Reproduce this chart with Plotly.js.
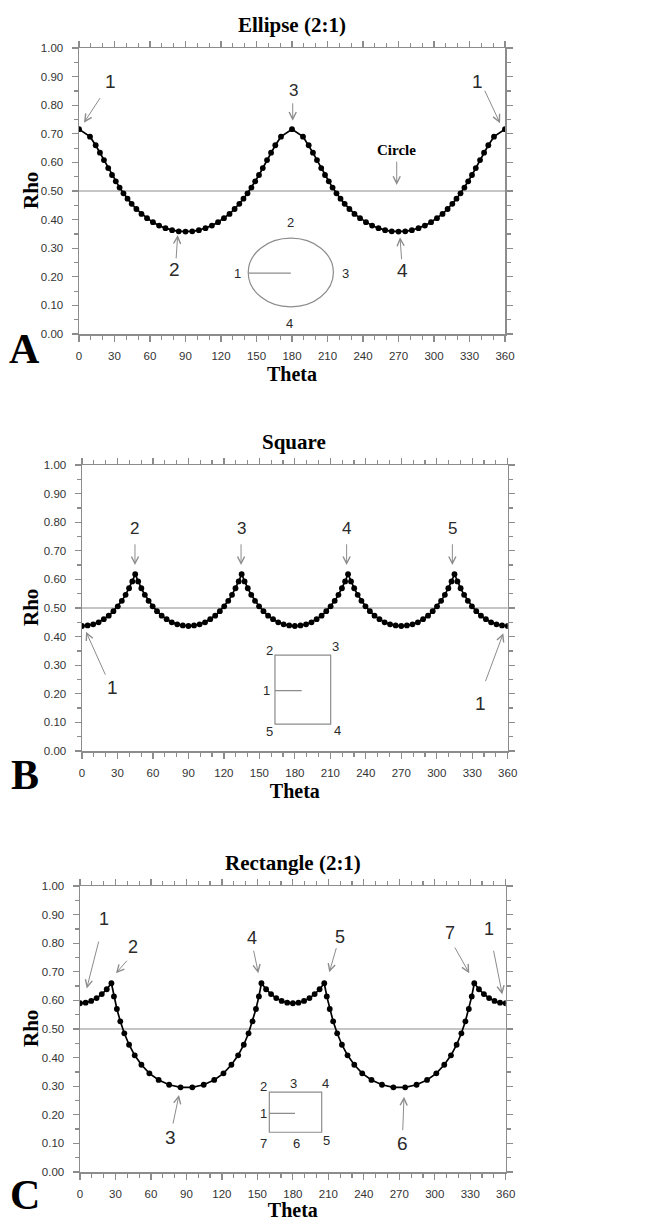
<!DOCTYPE html>
<html>
<head>
<meta charset="utf-8">
<script src="https://cdn.plot.ly/plotly-3.0.1.min.js"></script>
<style>
  html, body { margin: 0; padding: 0; background: #fff; }
  #chart { width: 653px; height: 1221px; }
</style>
</head>
<body>
<div id="chart"></div>
<script>
// ---- axis ticks ----
const thetaTicks = [0, 30, 60, 90, 120, 150, 180, 210, 240, 270, 300, 330, 360];
const rhoTicks = [0, 0.1, 0.2, 0.3, 0.4, 0.5, 0.6, 0.7, 0.8, 0.9, 1.0];

// ---- panel titles and letters ----
const panelTitles = ['Ellipse (2:1)', 'Square', 'Rectangle (2:1)'];
const panelLetters = ['A', 'B', 'C'];

// reference circle radius (horizontal line)
const circleRho = 0.5;

// ---- A: ellipse (2:1) ----
const ellipseTheta = [
  0, 9.3, 14.1, 17.7, 21.1, 24.7, 27.9, 31.1, 34.3, 37.6, 41.0, 44.5, 48.5, 52.8, 57.5, 62.5, 67.7, 73.1, 78.7, 84.3, 90,
  95.7, 101.3, 106.9, 112.3, 117.5, 122.5, 127.2, 131.5, 135.5, 139.0, 142.4, 145.7, 148.9, 152.1, 155.3, 158.9, 162.3, 165.9, 170.7, 180,
  189.3, 194.1, 197.7, 201.1, 204.7, 207.9, 211.1, 214.3, 217.6, 221.0, 224.5, 228.5, 232.8, 237.5, 242.5, 247.7, 253.1, 258.7, 264.3, 270,
  275.7, 281.3, 286.9, 292.3, 297.5, 302.5, 307.2, 311.5, 315.5, 319.0, 322.4, 325.7, 328.9, 332.1, 335.3, 338.9, 342.3, 345.9, 350.7, 360
];
const ellipseRho = [
  0.716, 0.690, 0.660, 0.634, 0.608, 0.580, 0.556, 0.534, 0.512, 0.492, 0.473, 0.455, 0.437, 0.420, 0.405, 0.391, 0.379, 0.370, 0.363, 0.359, 0.358,
  0.359, 0.363, 0.370, 0.379, 0.391, 0.405, 0.420, 0.437, 0.455, 0.473, 0.492, 0.512, 0.534, 0.556, 0.580, 0.608, 0.634, 0.660, 0.690, 0.716,
  0.690, 0.660, 0.634, 0.608, 0.580, 0.556, 0.534, 0.512, 0.492, 0.473, 0.455, 0.437, 0.420, 0.405, 0.391, 0.379, 0.370, 0.363, 0.359, 0.358,
  0.359, 0.363, 0.370, 0.379, 0.391, 0.405, 0.420, 0.437, 0.455, 0.473, 0.492, 0.512, 0.534, 0.556, 0.580, 0.608, 0.634, 0.660, 0.690, 0.716
];

// ---- B: square ----
const squareTheta = [
  0, 4.76, 9.46, 14.04, 18.43, 22.62, 26.57, 30.26, 33.69, 36.87, 39.81, 42.51, 45,
  47.49, 50.19, 53.13, 56.31, 59.74, 63.43, 67.38, 71.57, 75.96, 80.54, 85.24, 90,
  94.76, 99.46, 104.04, 108.43, 112.62, 116.57, 120.26, 123.69, 126.87, 129.81, 132.51, 135,
  137.49, 140.19, 143.13, 146.31, 149.74, 153.43, 157.38, 161.57, 165.96, 170.54, 175.24, 180,
  184.76, 189.46, 194.04, 198.43, 202.62, 206.57, 210.26, 213.69, 216.87, 219.81, 222.51, 225,
  227.49, 230.19, 233.13, 236.31, 239.74, 243.43, 247.38, 251.57, 255.96, 260.54, 265.24, 270,
  274.76, 279.46, 284.04, 288.43, 292.62, 296.57, 300.26, 303.69, 306.87, 309.81, 312.51, 315,
  317.49, 320.19, 323.13, 326.31, 329.74, 333.43, 337.38, 341.57, 345.96, 350.54, 355.24, 360
];
const squareRho = [
  0.437, 0.439, 0.443, 0.450, 0.461, 0.473, 0.489, 0.506, 0.525, 0.546, 0.569, 0.593, 0.618,
  0.593, 0.569, 0.546, 0.525, 0.506, 0.489, 0.473, 0.461, 0.450, 0.443, 0.439, 0.437,
  0.439, 0.443, 0.450, 0.461, 0.473, 0.489, 0.506, 0.525, 0.546, 0.569, 0.593, 0.618,
  0.593, 0.569, 0.546, 0.525, 0.506, 0.489, 0.473, 0.461, 0.450, 0.443, 0.439, 0.437,
  0.439, 0.443, 0.450, 0.461, 0.473, 0.489, 0.506, 0.525, 0.546, 0.569, 0.593, 0.618,
  0.593, 0.569, 0.546, 0.525, 0.506, 0.489, 0.473, 0.461, 0.450, 0.443, 0.439, 0.437,
  0.439, 0.443, 0.450, 0.461, 0.473, 0.489, 0.506, 0.525, 0.546, 0.569, 0.593, 0.618,
  0.593, 0.569, 0.546, 0.525, 0.506, 0.489, 0.473, 0.461, 0.450, 0.443, 0.439, 0.437
];

// ---- C: rectangle (2:1) ----
const rectTheta = [
  0, 4.76, 9.46, 14.04, 18.43, 22.62, 26.57,
  28.71, 31.19, 34.08, 37.48, 41.49, 46.27, 51.95, 58.67, 66.50, 75.37, 85.02,
  94.98, 104.63, 113.50, 121.33, 128.05, 133.73, 138.51, 142.52, 145.92, 148.81, 151.29, 153.43,
  157.38, 161.57, 165.96, 170.54, 175.24, 180,
  184.76, 189.46, 194.04, 198.43, 202.62, 206.57,
  208.71, 211.19, 214.08, 217.48, 221.49, 226.27, 231.95, 238.67, 246.50, 255.37, 265.02,
  274.98, 284.63, 293.50, 301.33, 308.05, 313.73, 318.51, 322.52, 325.92, 328.81, 331.29, 333.43,
  337.38, 341.57, 345.96, 350.54, 355.24, 360
];
const rectRho = [
  0.590, 0.592, 0.598, 0.608, 0.622, 0.639, 0.660,
  0.614, 0.570, 0.527, 0.485, 0.445, 0.408, 0.375, 0.345, 0.322, 0.305, 0.296,
  0.296, 0.305, 0.322, 0.345, 0.375, 0.408, 0.445, 0.485, 0.527, 0.570, 0.614, 0.660,
  0.639, 0.622, 0.608, 0.598, 0.592, 0.590,
  0.592, 0.598, 0.608, 0.622, 0.639, 0.660,
  0.614, 0.570, 0.527, 0.485, 0.445, 0.408, 0.375, 0.345, 0.322, 0.305, 0.296,
  0.296, 0.305, 0.322, 0.345, 0.375, 0.408, 0.445, 0.485, 0.527, 0.570, 0.614, 0.660,
  0.639, 0.622, 0.608, 0.598, 0.592, 0.590
];

// ---------------------------------------------------------------
const W = 653, H = 1221;
const px = v => v / W;          // pixel column -> paper x
const py = v => 1 - v / H;      // pixel row -> paper y

const SERIF = 'Liberation Serif, Times New Roman, serif';
const SANS = 'Liberation Sans, Arial, sans-serif';
const FRAME = '#8c8c8c';
const ARROW = '#8c8c8c';
const INK = '#2a2a2a';

// plot boxes in pixels: [left, right, top, bottom]
const boxes = [
  [79, 505, 48, 334],
  [82, 507.7, 465, 751],
  [80, 505.7, 886, 1172]
];

const series = [
  [ellipseTheta, ellipseRho],
  [squareTheta, squareRho],
  [rectTheta, rectRho]
];

const data = series.map((s, i) => ({
  type: 'scatter',
  mode: 'lines+markers',
  x: s[0],
  y: s[1],
  xaxis: i === 0 ? 'x' : 'x' + (i + 1),
  yaxis: i === 0 ? 'y' : 'y' + (i + 1),
  line: { color: '#000', width: 1.7 },
  marker: { color: '#000', size: 5.8 },
  showlegend: false,
  hoverinfo: 'x+y'
}));

function xAxis(i) {
  const b = boxes[i];
  return {
    domain: [px(b[0]), px(b[1])],
    anchor: i === 0 ? 'y' : 'y' + (i + 1),
    range: [0, 360],
    tickmode: 'array',
    tickvals: thetaTicks,
    ticktext: thetaTicks.map(String),
    ticks: 'outside', ticklen: 6, tickwidth: 1.2, tickcolor: FRAME,
    minor: { dtick: 10, tick0: 0, ticks: 'outside', ticklen: 4, tickwidth: 1.2, tickcolor: FRAME },
    showline: true, linecolor: FRAME, linewidth: 1.5, mirror: 'allticks',
    showgrid: false, zeroline: false,
    ticklabelstandoff: 5,
    tickfont: { family: SANS, size: 11.5, color: '#333' },
    title: { text: '<b>Theta</b>', font: { family: SERIF, size: 20, color: '#000' }, standoff: 5 },
    fixedrange: true
  };
}

function yAxis(i) {
  const b = boxes[i];
  return {
    domain: [py(b[3]), py(b[2])],
    anchor: i === 0 ? 'x' : 'x' + (i + 1),
    range: [0, 1],
    tickmode: 'array',
    tickvals: rhoTicks,
    ticktext: rhoTicks.map(v => v.toFixed(2)),
    ticks: 'outside', ticklen: 6, tickwidth: 1.2, tickcolor: FRAME,
    minor: { dtick: 0.05, tick0: 0, ticks: 'outside', ticklen: 4, tickwidth: 1.2, tickcolor: FRAME },
    showline: true, linecolor: FRAME, linewidth: 1.5, mirror: 'allticks',
    showgrid: false, zeroline: false,
    ticklabelstandoff: 6,
    tickfont: { family: SANS, size: 11.5, color: '#333' },
    fixedrange: true
  };
}

const layout = {
  width: W, height: H,
  margin: { l: 0, r: 0, t: 0, b: 0 },
  paper_bgcolor: '#fff', plot_bgcolor: '#fff',
  showlegend: false,
  xaxis: xAxis(0), yaxis: yAxis(0),
  xaxis2: xAxis(1), yaxis2: yAxis(1),
  xaxis3: xAxis(2), yaxis3: yAxis(2),
  shapes: [],
  annotations: []
};

// circle reference line in every panel
['', '2', '3'].forEach(k => {
  layout.shapes.push({
    type: 'line', xref: 'x' + k + ' domain', yref: 'y' + k,
    x0: 0, x1: 1, y0: circleRho, y1: circleRho,
    line: { color: '#8c8c8c', width: 1.2 }, layer: 'below'
  });
});

// titles, panel letters and the rotated Rho axis label
const titleRows = [25, 442, 863];
const titleCols = [292, 294, 293];
const letterRows = [349, 775, 1195];
panelTitles.forEach((t, i) => {
  const b = boxes[i];
  layout.annotations.push({
    xref: 'paper', yref: 'paper', x: px(titleCols[i]), y: py(titleRows[i]),
    xanchor: 'center', yanchor: 'middle', showarrow: false,
    text: '<b>' + t + '</b>', font: { family: SERIF, size: 21, color: '#000' }
  });
  layout.annotations.push({
    xref: 'paper', yref: 'paper', x: px(25), y: py(letterRows[i]),
    xanchor: 'center', yanchor: 'middle', showarrow: false,
    text: '<b>' + panelLetters[i] + '</b>', font: { family: SERIF, size: 42, color: '#000' }
  });
  layout.annotations.push({
    xref: 'paper', yref: 'paper', x: px(31), y: py((b[2] + b[3]) / 2),
    xanchor: 'center', yanchor: 'middle', showarrow: false, textangle: -90,
    text: '<b>Rho</b>', font: { family: SERIF, size: 21, color: '#000' }
  });
});

// point labels with arrows: [text, labelX, labelY, tailX, tailY, headX, headY, fontSize]
const callouts = [
  ['', [
    ['1', 26.2, 0.882, 18.6, 0.830, 4.2, 0.739, 19],
    ['3', 181.1, 0.853, 180.6, 0.812, 180.6, 0.746, 17],
    ['1', 336.6, 0.882, 342.3, 0.856, 355.8, 0.737, 19],
    ['2', 81.1, 0.226, 82.0, 0.259, 83.4, 0.346, 19],
    ['4', 273.5, 0.221, 272.7, 0.256, 271.3, 0.338, 19]
  ]],
  ['2', [
    ['2', 44.8, 0.779, 44.8, 0.728, 44.8, 0.650, 17],
    ['3', 134.5, 0.779, 134.5, 0.728, 134.5, 0.650, 17],
    ['4', 223.8, 0.779, 223.8, 0.728, 223.8, 0.650, 17],
    ['5', 313.2, 0.779, 313.2, 0.728, 313.2, 0.650, 17],
    ['1', 26.0, 0.223, 20.3, 0.262, 3.4, 0.417, 19],
    ['1', 337.2, 0.167, 340.8, 0.239, 356.3, 0.412, 19]
  ]],
  ['3', [
    ['1', 20.5, 0.884, 16.1, 0.811, 5.7, 0.642, 18],
    ['2', 45.1, 0.788, 40.8, 0.744, 30.4, 0.695, 18],
    ['4', 145.7, 0.819, 146.6, 0.779, 150.8, 0.695, 18],
    ['5', 219.9, 0.823, 217.1, 0.788, 210.8, 0.698, 18],
    ['7', 312.9, 0.835, 316.3, 0.790, 329.2, 0.695, 18],
    ['1', 346.1, 0.850, 349.5, 0.779, 357.1, 0.621, 18],
    ['3', 76.7, 0.121, 78.4, 0.164, 83.7, 0.269, 19],
    ['6', 272.9, 0.098, 272.9, 0.141, 274.0, 0.263, 19]
  ]]
];

callouts.forEach(([k, list]) => {
  list.forEach(c => {
    layout.annotations.push({
      xref: 'x' + k, yref: 'y' + k, x: c[1], y: c[2],
      xanchor: 'center', yanchor: 'middle', showarrow: false,
      text: c[0], font: { family: SANS, size: c[7], color: INK }
    });
    layout.annotations.push({
      xref: 'x' + k, yref: 'y' + k, axref: 'x' + k, ayref: 'y' + k,
      x: c[5], y: c[6], ax: c[3], ay: c[4],
      text: '', showarrow: true, arrowhead: 5, arrowsize: 1.4, arrowwidth: 1, arrowcolor: ARROW
    });
  });
});

// "Circle" label for the reference line
layout.annotations.push({
  xref: 'x', yref: 'y', x: 267.9, y: 0.643, xanchor: 'center', yanchor: 'middle', showarrow: false,
  text: '<b>Circle</b>', font: { family: SERIF, size: 15, color: '#000' }
});
layout.annotations.push({
  xref: 'x', yref: 'y', axref: 'x', ayref: 'y', x: 268.5, y: 0.521, ax: 268.5, ay: 0.608,
  text: '', showarrow: true, arrowhead: 5, arrowsize: 1.4, arrowwidth: 1, arrowcolor: ARROW
});

// shape sketches with their vertex numbers
const SKETCH = { color: '#8c8c8c', width: 1.2 };
// ellipse
layout.shapes.push({ type: 'circle', xref: 'x', yref: 'y', x0: 143, x1: 215, y0: 0.095, y1: 0.335, line: SKETCH });
layout.shapes.push({ type: 'line', xref: 'x', yref: 'y', x0: 143, x1: 179, y0: 0.213, y1: 0.213, line: SKETCH });
// square
layout.shapes.push({ type: 'rect', xref: 'x2', yref: 'y2', x0: 163.2, x1: 210.3, y0: 0.094, y1: 0.335, line: SKETCH });
layout.shapes.push({ type: 'line', xref: 'x2', yref: 'y2', x0: 163.2, x1: 185.8, y0: 0.211, y1: 0.211, line: SKETCH });
// rectangle
layout.shapes.push({ type: 'rect', xref: 'x3', yref: 'y3', x0: 160.1, x1: 204.4, y0: 0.139, y1: 0.279, line: SKETCH });
layout.shapes.push({ type: 'line', xref: 'x3', yref: 'y3', x0: 160.1, x1: 181.8, y0: 0.205, y1: 0.205, line: SKETCH });

const sketchLabels = [
  ['', [['1', 133.8, 0.210], ['2', 178.9, 0.389], ['3', 224.8, 0.212], ['4', 178.3, 0.035]]],
  ['2', [['2', 158.2, 0.353], ['3', 214.6, 0.365], ['1', 156.2, 0.211], ['5', 158.4, 0.068], ['4', 215.9, 0.071]]],
  ['3', [['2', 155.0, 0.298], ['3', 180.4, 0.310], ['4', 208.0, 0.310], ['1', 155.0, 0.205],
         ['7', 155.0, 0.098], ['6', 182.7, 0.098], ['5', 208.6, 0.109]]]
];
sketchLabels.forEach(([k, list]) => {
  list.forEach(l => {
    layout.annotations.push({
      xref: 'x' + k, yref: 'y' + k, x: l[1], y: l[2],
      xanchor: 'center', yanchor: 'middle', showarrow: false,
      text: l[0], font: { family: SANS, size: 13, color: INK }
    });
  });
});

Plotly.newPlot('chart', data, layout, { staticPlot: true, displayModeBar: false });
</script>
</body>
</html>
